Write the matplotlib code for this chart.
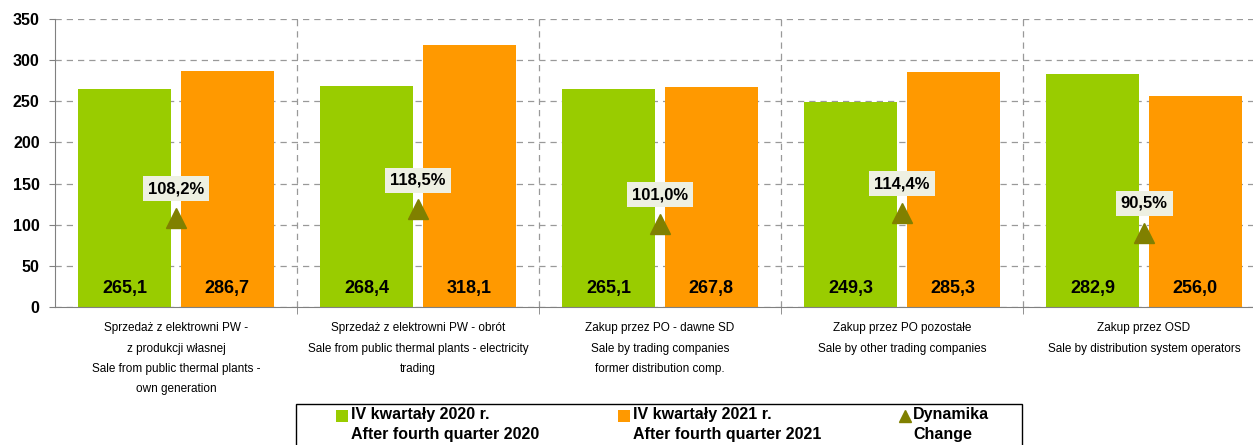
import matplotlib.pyplot as plt
import numpy as np
from matplotlib.lines import Line2D
from matplotlib.patches import Rectangle

plt.rcParams['font.family'] = ['Liberation Sans', 'DejaVu Sans']

categories = [
    'Sprzedaż z elektrowni PW -\nz produkcji własnej\nSale from public thermal plants -\nown generation',
    'Sprzedaż z elektrowni PW - obrót\nSale from public thermal plants - electricity\ntrading',
    'Zakup przez PO - dawne SD\nSale by trading companies\nformer distribution comp.',
    'Zakup przez PO pozostałe\nSale by other trading companies',
    'Zakup przez OSD\nSale by distribution system operators',
]
values_2020 = [265.1, 268.4, 265.1, 249.3, 282.9]
values_2021 = [286.7, 318.1, 267.8, 285.3, 256.0]
change_pct = [108.2, 118.5, 101.0, 114.4, 90.5]

series_labels = ['IV kwartały 2020 r.\nAfter fourth quarter 2020',
                 'IV kwartały 2021 r.\nAfter fourth quarter 2021',
                 'Dynamika\nChange']

GREEN = '#99cc00'
ORANGE = '#ff9900'
OLIVE = '#808000'
W, H = 1253, 445


def fmt(v):
    return f'{v:.1f}'.replace('.', ',')


fig = plt.figure(figsize=(W / 100, H / 100), dpi=100)
ax = fig.add_axes((55 / W, 1 - 307 / H, 1210 / W, 288 / H))

x = np.arange(len(categories))
width = 0.385
offset = 0.212

ax.bar(x - offset, values_2020, width, color=GREEN, zorder=2)
ax.bar(x + offset, values_2021, width, color=ORANGE, zorder=2)
ax.plot(x, change_pct, linestyle='none', marker='^', markersize=14,
        color=OLIVE, zorder=4)

# Value labels inside bars
for xi, v in zip(x - offset, values_2020):
    ax.text(xi, 23, fmt(v), ha='center', va='center', fontsize=13,
            fontweight='bold', zorder=5)
for xi, v in zip(x + offset, values_2021):
    ax.text(xi, 23, fmt(v), ha='center', va='center', fontsize=13,
            fontweight='bold', zorder=5)

# Change labels above triangles
for xi, p in zip(x, change_pct):
    ax.annotate(fmt(p) + '%', (xi, p), xytext=(0, 21), textcoords='offset points',
                ha='center', va='center', fontsize=12, fontweight='bold', zorder=6,
                bbox=dict(boxstyle='square,pad=0.3', facecolor='#eef0e2',
                          edgecolor='none'))

ax.set_xlim(-0.5, 4.5)
ax.set_ylim(0, 350)
ax.set_yticks(np.arange(0, 351, 50))
ax.tick_params(axis='y', labelsize=11.5, length=4, color='#808080', pad=7)
for lbl in ax.get_yticklabels():
    lbl.set_fontweight('bold')

ax.set_xticks(x)
ax.set_xticklabels(categories, fontsize=8.5, linespacing=1.93)
ax.tick_params(axis='x', which='major', length=0, pad=11)
ax.set_xticks(np.arange(0.5, 4.5, 1), minor=True)
ax.tick_params(axis='x', which='minor', length=5, color='#808080')

ax.grid(axis='y', linestyle=(0, (5, 4)), color='#999999', linewidth=0.9, zorder=0)
ax.grid(axis='x', which='minor', linestyle=(0, (5, 4)), color='#999999',
        linewidth=0.9, zorder=0)
ax.set_axisbelow(True)

for side in ['top', 'right']:
    ax.spines[side].set_visible(False)
for side in ['left', 'bottom']:
    ax.spines[side].set_color('#808080')

# Legend box, laid out by hand to follow the original spacing
fig.add_artist(Rectangle((296 / W, 1 - 455 / H), 726 / W, 51 / H,
                         transform=fig.transFigure, facecolor='white',
                         edgecolor='black', linewidth=1.0))
legend_x = [336, 618, 904]
row_y = 1 - 416 / H
for i, (lx, label) in enumerate(zip(legend_x, series_labels)):
    if i < 2:
        color = [GREEN, ORANGE][i]
        fig.add_artist(Rectangle((lx / W, 1 - 422 / H), 12 / W, 12 / H,
                                 transform=fig.transFigure, facecolor=color,
                                 edgecolor='none'))
        tx = lx + 15
    else:
        fig.add_artist(Line2D([(lx + 1) / W], [row_y], transform=fig.transFigure,
                              linestyle='none', marker='^', markersize=9,
                              color=OLIVE))
        tx = lx + 9
    fig.text(tx / W, 1 - 407 / H, label, ha='left', va='top', fontsize=11.5,
             fontweight='bold', linespacing=1.45)

fig.savefig('out.png', dpi=100)
